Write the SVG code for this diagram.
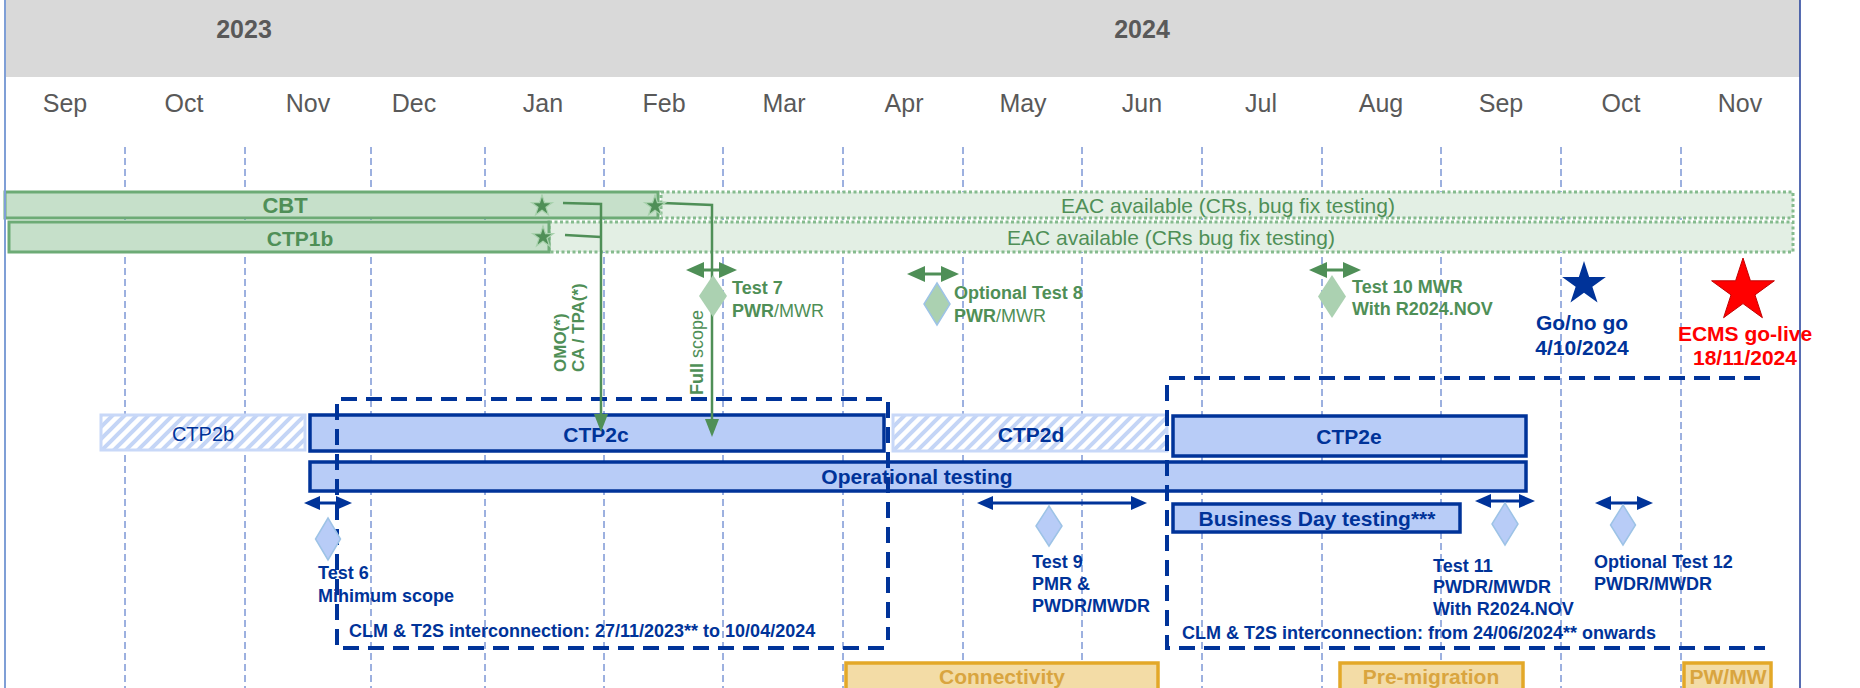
<svg xmlns="http://www.w3.org/2000/svg" xmlns:xlink="http://www.w3.org/1999/xlink" width="1860" height="688" viewBox="0 0 1860 688">
<style>
text{font-family:"Liberation Sans",Arial,sans-serif}
.mon{font-size:25px;fill:#595959;text-anchor:middle}
.yr{font-size:25px;font-weight:bold;fill:#595959;text-anchor:middle}
.grid{stroke:#3a62c0;stroke-width:1;stroke-dasharray:7 4}
.gbar{fill:#c6e0ca;stroke:#6dab76;stroke-width:3}
.eac{fill:#e3efe4;stroke:#86bb8e;stroke-width:3;stroke-dasharray:3 2.5}
.gt{fill:#4f8f57;font-size:18px}
.b{font-weight:bold}
.gc{fill:none;stroke:#4f8f57;stroke-width:2.5}
.bbar{fill:#b8ccf7;stroke:#003399;stroke-width:3.5}
.hbar{fill:url(#hatch);stroke:#c8d8f8;stroke-width:3}
.bt{fill:#003399;font-size:21px;text-anchor:middle}
.tt{fill:#003399;font-size:18px;font-weight:bold}
.box{fill:none;stroke:#003399;stroke-width:4;stroke-dasharray:16 9}
.gdia{fill:#abd1b1}
.bdia{fill:#b8ccf7;stroke:#9dc3e6;stroke-width:1.5}
.garr{stroke:#4f8f57;stroke-width:3;marker-start:url(#gh);marker-end:url(#gh)}
.barr{stroke:#003399;stroke-width:3;marker-start:url(#bh);marker-end:url(#bh)}
.obar{fill:#f3dca6;stroke:#e3a828;stroke-width:3.5}
.ot{fill:#d9a53f;font-size:21px;font-weight:bold;text-anchor:middle}
</style>
<defs>
<pattern id="hatch" patternUnits="userSpaceOnUse" width="12" height="12">
<rect width="12" height="12" fill="#ffffff"/>
<path d="M-3,3 L3,-3 M0,12 L12,0 M9,15 L15,9" stroke="#c4d5f6" stroke-width="4"/>
</pattern>
<marker id="gh" markerUnits="userSpaceOnUse" markerWidth="18" markerHeight="16" refX="8" refY="8" orient="auto-start-reverse" viewBox="0 0 18 16">
<path d="M0,0 L18,8 L0,16 Z" fill="#4f8f57"/>
</marker>
<marker id="bh" markerUnits="userSpaceOnUse" markerWidth="16" markerHeight="14" refX="7" refY="7" orient="auto-start-reverse" viewBox="0 0 16 14">
<path d="M0,0 L16,7 L0,14 Z" fill="#003399"/>
</marker>
<marker id="dh" markerUnits="userSpaceOnUse" markerWidth="18" markerHeight="14" refX="8" refY="7" orient="auto" viewBox="0 0 18 14">
<path d="M0,0 L18,7 L0,14 Z" fill="#4f8f57"/>
</marker>
<path id="star" d="M0,-10 L2.245,-3.09 L9.51,-3.09 L3.63,1.18 L5.88,8.09 L0,3.82 L-5.88,8.09 L-3.63,1.18 L-9.51,-3.09 L-2.245,-3.09 Z"/>
</defs>

<rect width="1860" height="688" fill="#ffffff"/>

<g id="header">
<rect x="6" y="0" width="1794" height="77" fill="#d9d9d9"/>
<text class="yr" x="244" y="38">2023</text>
<text class="yr" x="1142" y="38">2024</text>
<text class="mon" x="65" y="112">Sep</text>
<text class="mon" x="184" y="112">Oct</text>
<text class="mon" x="308" y="112">Nov</text>
<text class="mon" x="414" y="112">Dec</text>
<text class="mon" x="543" y="112">Jan</text>
<text class="mon" x="664" y="112">Feb</text>
<text class="mon" x="784" y="112">Mar</text>
<text class="mon" x="904" y="112">Apr</text>
<text class="mon" x="1023" y="112">May</text>
<text class="mon" x="1142" y="112">Jun</text>
<text class="mon" x="1261" y="112">Jul</text>
<text class="mon" x="1381" y="112">Aug</text>
<text class="mon" x="1501" y="112">Sep</text>
<text class="mon" x="1621" y="112">Oct</text>
<text class="mon" x="1740" y="112">Nov</text>
</g>

<g id="grid">
<path class="grid" d="M125,147V688M245,147V688M371,147V688M485,147V688M604,147V688M723,147V688M843,147V688M963,147V688M1082,147V688M1202,147V688M1322,147V688M1441,147V688M1561,147V688M1681,147V688"/>
</g>

<g id="eac1">
<rect class="eac" x="661" y="192" width="1132" height="26"/>
<text class="gt" x="1228" y="213" text-anchor="middle" style="font-size:21px">EAC available (CRs, bug fix testing)</text>
</g>
<g id="eac2">
<rect class="eac" x="549" y="222" width="1244" height="30"/>
<text class="gt" x="1171" y="245" text-anchor="middle" style="font-size:21px">EAC available (CRs bug fix testing)</text>
</g>
<g id="cbt">
<rect class="gbar" x="5" y="192" width="653" height="26"/>
<text class="gt b" x="285" y="213" text-anchor="middle" style="font-size:22px">CBT</text>
</g>
<g id="ctp1b">
<rect class="gbar" x="9" y="222" width="540" height="30"/>
<text class="gt b" x="300" y="246" text-anchor="middle" style="font-size:21px">CTP1b</text>
</g>

<g id="ctp2b">
<rect class="hbar" x="101" y="415" width="204" height="35"/>
<text class="bt" x="203" y="441" style="font-size:20px">CTP2b</text>
</g>
<g id="ctp2c">
<rect class="bbar" x="310" y="415" width="574" height="36"/>
<text class="bt b" x="596" y="442">CTP2c</text>
</g>
<g id="ctp2d">
<rect class="hbar" x="893" y="415" width="274" height="36"/>
<text class="bt b" x="1031" y="442">CTP2d</text>
</g>
<g id="ctp2e">
<rect class="bbar" x="1173" y="416" width="353" height="40"/>
<text class="bt b" x="1349" y="444">CTP2e</text>
</g>
<g id="optest">
<rect class="bbar" x="310" y="462" width="1216" height="29"/>
<text class="bt b" x="917" y="484">Operational testing</text>
</g>
<g id="bdt">
<rect class="bbar" x="1173" y="504" width="287" height="28"/>
<text class="bt b" x="1317" y="526">Business Day testing***</text>
</g>

<g id="clm1">
<path class="box" d="M884,648 H337 V399 H888 V640"/>
<text class="tt" x="349" y="637">CLM &amp; T2S interconnection:  27/11/2023** to 10/04/2024</text>
</g>
<g id="clm2">
<path class="box" d="M1760,378 H1167 V648 H1765"/>
<text class="tt" x="1182" y="639">CLM &amp; T2S interconnection: from 24/06/2024** onwards</text>
</g>

<g id="connectors">
<path class="gc" d="M563,203 L601,204 L601,422" marker-end="url(#dh)"/>
<path class="gc" d="M565,235 L601,237"/>
<path class="gc" d="M663,203 L712,205 L712,427" marker-end="url(#dh)"/>
</g>

<g id="stars">
<use href="#star" transform="translate(542,206) scale(1.1)" fill="#4f8f57" stroke="#a9d2ae" stroke-width="1.1"/>
<use href="#star" transform="translate(655,206) scale(1.1)" fill="#4f8f57" stroke="#a9d2ae" stroke-width="1.1"/>
<use href="#star" transform="translate(543,237) scale(1.1)" fill="#4f8f57" stroke="#a9d2ae" stroke-width="1.1"/>
</g>

<g id="scope-labels">
<text class="gt b" transform="translate(566,372) rotate(-90)" style="font-size:17px">OMO(*)</text>
<text class="gt b" transform="translate(584,372) rotate(-90)" style="font-size:17px">CA / TPA(*)</text>
<text class="gt" transform="translate(703,395) rotate(-90)" style="font-size:18px"><tspan class="b">Full</tspan> scope</text>
</g>

<g id="test7">
<line class="garr" x1="696" y1="270" x2="727" y2="270"/>
<polygon class="gdia" points="713,275 727,296 713,317 699,296"/>
<text class="gt b" x="732" y="294">Test 7</text>
<text class="gt" x="732" y="317"><tspan class="b">PWR</tspan>/MWR</text>
</g>
<g id="test8">
<line class="garr" x1="917" y1="274" x2="949" y2="274"/>
<polygon class="gdia" points="937,283 950,304 937,325 924,304" stroke="#9dc3e6" stroke-width="1.5"/>
<text class="gt b" x="954" y="299">Optional Test 8</text>
<text class="gt" x="954" y="322"><tspan class="b">PWR</tspan>/MWR</text>
</g>
<g id="test10">
<line class="garr" x1="1319" y1="270" x2="1351" y2="270"/>
<polygon class="gdia" points="1332,275 1346,296.5 1332,318 1318,296.5"/>
<text class="gt b" x="1352" y="293">Test 10 MWR</text>
<text class="gt b" x="1352" y="315">With R2024.NOV</text>
</g>

<g id="gonogo">
<use href="#star" transform="translate(1584,284) scale(2.3)" fill="#003399"/>
<text class="bt b" x="1582" y="330" style="font-size:21px">Go/no go</text>
<text class="bt b" x="1582" y="355" style="font-size:21px">4/10/2024</text>
</g>
<g id="golive">
<use href="#star" transform="translate(1743,291) scale(3.3)" fill="#ff0000" stroke="#c00000" stroke-width="0.3"/>
<text class="b" x="1745" y="341" fill="#ff0000" text-anchor="middle" style="font-size:21px">ECMS go-live</text>
<text class="b" x="1745" y="365" fill="#ff0000" text-anchor="middle" style="font-size:21px">18/11/2024</text>
</g>

<g id="test6">
<line class="barr" x1="313" y1="503" x2="343" y2="503"/>
<polygon class="bdia" points="328,518 340.5,539 328,560 315.5,539"/>
<text class="tt" x="318" y="579">Test 6</text>
<text class="tt" x="318" y="602">Mihimum scope</text>
</g>
<g id="test9">
<line class="barr" x1="986" y1="503" x2="1138" y2="503"/>
<polygon class="bdia" points="1049,506 1062,526 1049,546 1036,526"/>
<text class="tt" x="1032" y="568">Test 9</text>
<text class="tt" x="1032" y="590">PMR &amp;</text>
<text class="tt" x="1032" y="612">PWDR/MWDR</text>
</g>
<g id="test11">
<line class="barr" x1="1484" y1="501" x2="1526" y2="501"/>
<polygon class="bdia" points="1505,503 1518,524 1505,545 1492,524"/>
<text class="tt" x="1433" y="572">Test 11</text>
<text class="tt" x="1433" y="593">PWDR/MWDR</text>
<text class="tt" x="1433" y="615">With R2024.NOV</text>
</g>
<g id="test12">
<line class="barr" x1="1604" y1="503" x2="1644" y2="503"/>
<polygon class="bdia" points="1623,505 1635.5,525 1623,545 1610.5,525"/>
<text class="tt" x="1594" y="568">Optional Test 12</text>
<text class="tt" x="1594" y="590">PWDR/MWDR</text>
</g>

<g id="connectivity">
<rect class="obar" x="846" y="663" width="312" height="40"/>
<text class="ot" x="1002" y="684">Connectivity</text>
</g>
<g id="premigration">
<rect class="obar" x="1340" y="663" width="183" height="40"/>
<text class="ot" x="1431" y="684">Pre-migration</text>
</g>
<g id="pwmw">
<rect class="obar" x="1684" y="663" width="87" height="40"/>
<text class="ot" x="1728" y="684">PW/MW</text>
</g>

<g id="frame">
<line x1="5" y1="0" x2="5" y2="688" stroke="#7f9fd6" stroke-width="2"/>
<line x1="1800" y1="0" x2="1800" y2="688" stroke="#1f3c99" stroke-width="1.5"/>
</g>
</svg>
